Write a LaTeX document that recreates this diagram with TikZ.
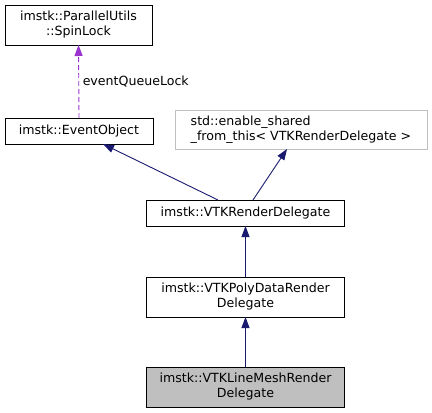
\documentclass[tikz,border=0pt]{standalone}
\usepackage{fontspec}
\setmainfont{DejaVu Sans}
\usetikzlibrary{arrows.meta}
\definecolor{edgeblue}{HTML}{191970}
\definecolor{edgepurple}{HTML}{9A32CD}
\definecolor{boxgray}{HTML}{BFBFBF}
\begin{document}
\begin{tikzpicture}[x=1pt,y=1pt,
  every node/.style={font=\fontsize{12.6}{15}\selectfont, inner sep=0pt, outer sep=0pt},
  cls/.style={draw=black, line width=0.9pt, fill=white, align=center},
  ext/.style={draw=boxgray, line width=0.9pt, fill=white, align=left},
  inh/.style={draw=edgeblue, line width=0.9pt, -{Triangle[length=11pt,width=8pt]}},
  use/.style={draw=edgepurple, line width=0.9pt, dashed, dash pattern=on 5pt off 3pt, -{Triangle[length=11pt,width=8pt]}}
]
\useasboundingbox (0,0) rectangle (432,-413);
\node[cls, minimum width=147, minimum height=40] (spin) at (78.5,-25) {imstk::ParallelUtils\\::SpinLock};
\node[cls, minimum width=148, minimum height=26] (evt) at (79,-131) {imstk::EventObject};
\node[ext, minimum width=252, minimum height=39] (esh) at (301,-129.5) {std::enable\_shared\\\_from\_this< VTKRenderDelegate >};
\node[cls, minimum width=198, minimum height=26] (vrd) at (245.5,-213) {imstk::VTKRenderDelegate};
\node[cls, minimum width=198, minimum height=40] (poly) at (245.5,-297) {imstk::VTKPolyDataRender\\Delegate};
\node[cls, fill=boxgray, minimum width=198, minimum height=40] (line) at (245.5,-387) {imstk::VTKLineMeshRender\\Delegate};

\draw[use] (evt.north) -- node[right=4pt, text=black] {eventQueueLock} (spin.south);
\draw[inh] ([xshift=-27.5]vrd.north) -- ([xshift=24]evt.south);
\draw[inh] ([xshift=7.5]vrd.north) -- ([xshift=-14]esh.south);
\draw[inh] (poly.north) -- (vrd.south);
\draw[inh] (line.north) -- (poly.south);
\end{tikzpicture}
\end{document}
